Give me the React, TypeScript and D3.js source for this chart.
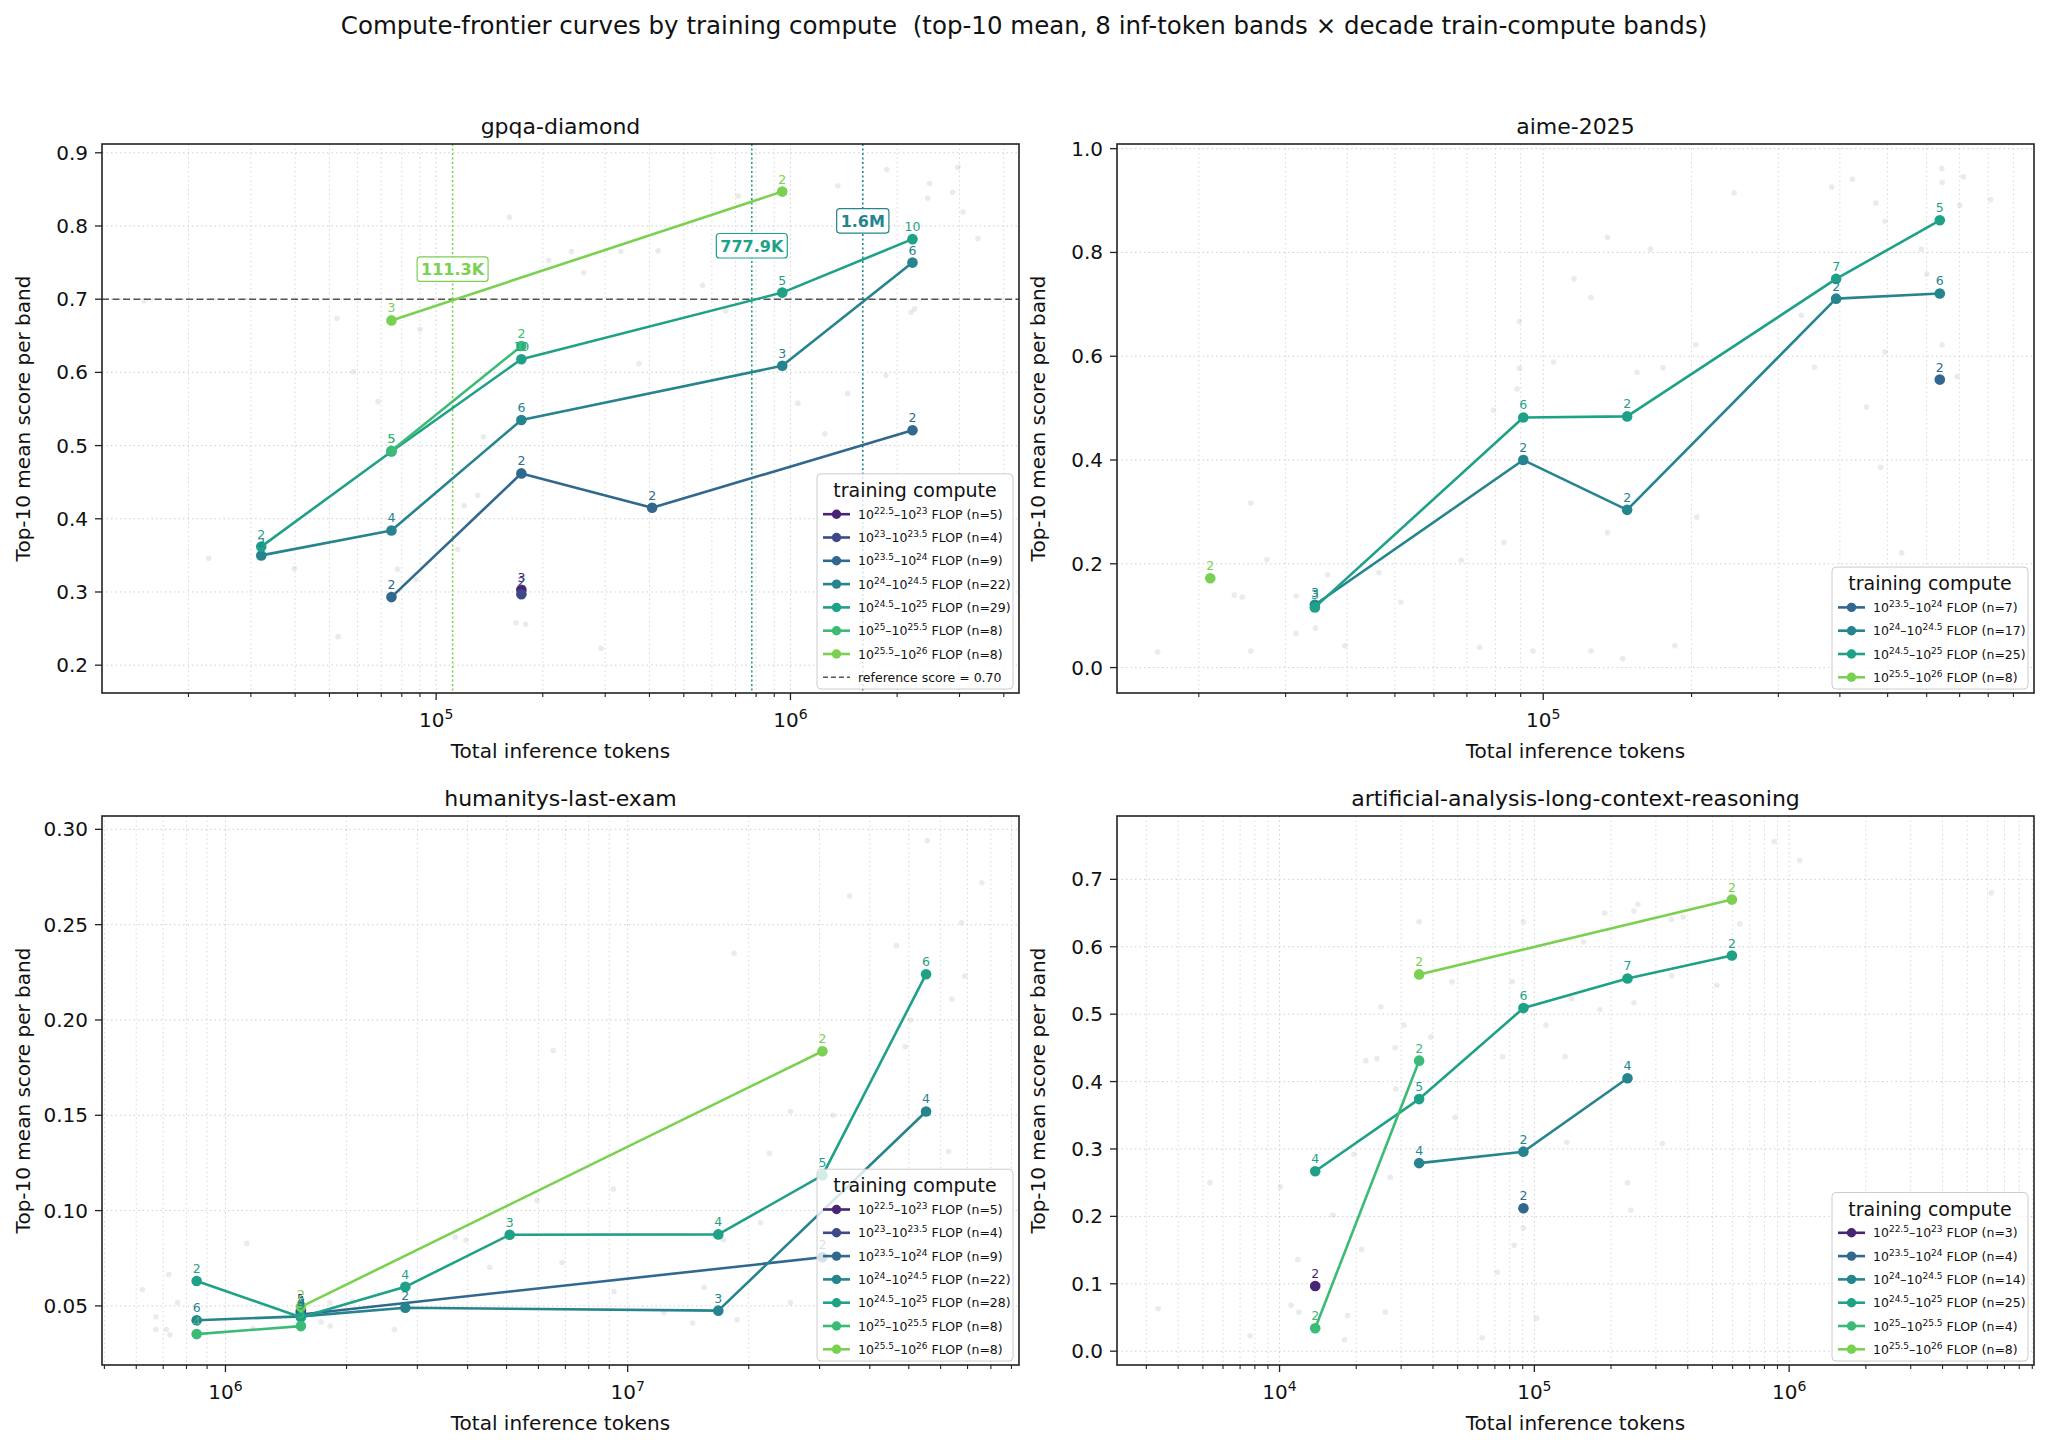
import React from 'react'
import * as d3 from 'd3'

const FONT = 'DejaVu Sans, Verdana, sans-serif'
const W = 2048
const H = 1448
const PW = 917
const PH = 549
const COL_X = [102, 1117]
const ROW_Y = [144, 816]

// training-compute bands, log10 FLOP bounds
const bandLo = ['22.5', '23', '23.5', '24', '24.5', '25', '25.5']
const bandHi = ['23', '23.5', '24', '24.5', '25', '25.5', '26']
const bandColor = bandLo.map((_, i) => d3.interpolateViridis(0.1 + (i * 0.7) / 6))

// ---- gpqa-diamond: [inference tokens, top-10 mean score, models in cell]
const gpqaB0 = [[174e3, 0.303, 3]]
const gpqaB1 = [[174e3, 0.297, 2]]
const gpqaB2 = [[74.8e3, 0.293, 2], [174e3, 0.462, 2], [407e3, 0.415, 2], [2.21e6, 0.521, 2]]
const gpqaB3 = [[32.1e3, 0.35, 2], [74.8e3, 0.384, 4], [174e3, 0.535, 6], [948e3, 0.609, 3], [2.21e6, 0.75, 6]]
const gpqaB4 = [[32.1e3, 0.362, 2], [74.8e3, 0.492, 5], [174e3, 0.618, 10], [948e3, 0.709, 5], [2.21e6, 0.782, 10]]
const gpqaB5 = [[74.8e3, 0.493, 5], [174e3, 0.636, 2]]
const gpqaB6 = [[74.8e3, 0.671, 3], [948e3, 0.847, 2]]
const gpqaN = [5, 4, 9, 22, 29, 8, 8]
const gpqaCross = [111.3e3, 777.9e3, 1.6e6]
const gpqaCrossText = ['111.3K', '777.9K', '1.6M']
const gpqaCrossBand = [6, 4, 3]
const gpqaCrossLabelY = [0.741, 0.773, 0.807]
const gpqaRef = 0.7
const gpqaRaw = [
  [15.0e3, 0.698], [22.8e3, 0.346], [39.8e3, 0.332], [52.5e3, 0.674], [52.9e3, 0.239], [58.4e3, 0.601],
  [68.6e3, 0.56], [77.8e3, 0.331], [87.7e3, 0.317], [90e3, 0.659], [115e3, 0.358], [120e3, 0.418],
  [131e3, 0.432], [136e3, 0.512], [161e3, 0.812], [168e3, 0.258], [179e3, 0.256], [208e3, 0.753],
  [241e3, 0.765], [261e3, 0.736], [292e3, 0.223], [332e3, 0.765], [374e3, 0.612], [423e3, 0.766],
  [565e3, 0.719], [655e3, 0.684], [712e3, 0.841], [1.05e6, 0.558], [1.25e6, 0.516], [1.36e6, 0.855],
  [1.45e6, 0.571], [1.87e6, 0.877], [1.86e6, 0.596], [2.19e6, 0.682], [2.24e6, 0.687], [2.44e6, 0.838],
  [2.47e6, 0.858], [2.87e6, 0.846], [2.97e6, 0.88], [3.07e6, 0.819], [3.38e6, 0.783],
]

// ---- aime-2025
const aimeB2 = [[638e3, 0.555, 2]]
const aimeB3 = [[34.4e3, 0.121, 3], [91.1e3, 0.4, 2], [148e3, 0.304, 2], [393e3, 0.711, 2], [638e3, 0.721, 6]]
const aimeB4 = [[34.4e3, 0.116, 3], [91.1e3, 0.482, 6], [148e3, 0.484, 2], [393e3, 0.749, 7], [638e3, 0.862, 5]]
const aimeB6 = [[21.1e3, 0.172, 2]]
const aimeN = [0, 0, 7, 17, 25, 0, 8]
const aimeRaw = [
  [16.5e3, 0.03], [23.6e3, 0.14], [24.5e3, 0.136], [25.5e3, 0.317], [25.5e3, 0.032], [27.5e3, 0.208],
  [31.5e3, 0.138], [31.5e3, 0.066], [34.5e3, 0.076], [36.5e3, 0.179], [39.6e3, 0.042], [46.4e3, 0.183],
  [51.4e3, 0.126], [68.2e3, 0.207], [74.3e3, 0.039], [79.3e3, 0.496], [83.2e3, 0.241], [88.5e3, 0.537],
  [89.5e3, 0.667], [89.5e3, 0.577], [95.3e3, 0.032], [105e3, 0.589], [115.5e3, 0.749], [125e3, 0.713],
  [125e3, 0.032], [135e3, 0.829], [135e3, 0.26], [145e3, 0.017], [155e3, 0.569], [165e3, 0.806],
  [175e3, 0.578], [185e3, 0.042], [204e3, 0.622], [205e3, 0.29], [244e3, 0.915], [334e3, 0.679],
  [355e3, 0.579], [385e3, 0.926], [424e3, 0.941], [453e3, 0.502], [473e3, 0.895], [484e3, 0.386],
  [494e3, 0.608], [494e3, 0.86], [534e3, 0.221], [585e3, 0.806], [600e3, 0.758], [644e3, 0.962],
  [645e3, 0.935], [645e3, 0.622], [692e3, 0.561], [700e3, 0.891], [712e3, 0.946], [809e3, 0.902],
]

// ---- humanitys-last-exam
const hleB0 = [[1.54e6, 0.0475, 5]]
const hleB1 = [[1.54e6, 0.0465, 4]]
const hleB2 = [[1.54e6, 0.0455, 3], [30.5e6, 0.0755, 2]]
const hleB3 = [[848e3, 0.0425, 6], [1.54e6, 0.0445, 4], [2.8e6, 0.049, 2], [16.8e6, 0.0475, 3], [55.2e6, 0.152, 4]]
const hleB4 = [[848e3, 0.0631, 2], [1.54e6, 0.044, 5], [2.8e6, 0.06, 4], [5.09e6, 0.0873, 3], [16.8e6, 0.0875, 4], [30.5e6, 0.1185, 5], [55.2e6, 0.224, 6]]
const hleB5 = [[848e3, 0.0352, 4], [1.54e6, 0.0394, 3]]
const hleB6 = [[1.54e6, 0.0495, 2], [30.5e6, 0.1836, 2]]
const hleN = [5, 4, 9, 22, 28, 8, 8]
const hleRaw = [
  [622e3, 0.0586], [671e3, 0.0443], [671e3, 0.0376], [713e3, 0.0376], [728e3, 0.0349], [723e3, 0.0665],
  [760e3, 0.0518], [1.13e6, 0.0828], [1.17e6, 0.0382], [1.73e6, 0.0416], [1.82e6, 0.0394], [1.82e6, 0.0518],
  [2.07e6, 0.0525], [2.63e6, 0.0376], [3.73e6, 0.0862], [3.96e6, 0.0846], [4.54e6, 0.0703], [5.95e6, 0.1054],
  [6.53e6, 0.184], [6.87e6, 0.0728], [9.21e6, 0.1113], [9.25e6, 0.0575], [12.3e6, 0.0466], [14.5e6, 0.041],
  [15.5e6, 0.0597], [17.3e6, 0.0846], [18.4e6, 0.235], [18.7e6, 0.0428], [21.4e6, 0.0936], [22.5e6, 0.13],
  [25.4e6, 0.152], [25.4e6, 0.0518], [32.4e6, 0.15], [35.6e6, 0.265], [46.6e6, 0.239], [49e6, 0.186],
  [50.5e6, 0.2], [55.6e6, 0.294], [62.8e6, 0.131], [64e6, 0.211], [67.6e6, 0.251], [68.9e6, 0.223], [76e6, 0.272],
]

// ---- artificial-analysis-long-context-reasoning
const lcrB0 = [[13.8e3, 0.0966, 2]]
const lcrB2 = [[90.6e3, 0.212, 2]]
const lcrB3 = [[35.3e3, 0.279, 4], [90.6e3, 0.296, 2], [232e3, 0.405, 4]]
const lcrB4 = [[13.8e3, 0.267, 4], [35.3e3, 0.374, 5], [90.6e3, 0.509, 6], [232e3, 0.553, 7], [596e3, 0.587, 2]]
const lcrB5 = [[13.8e3, 0.034, 2], [35.3e3, 0.431, 2]]
const lcrB6 = [[35.3e3, 0.559, 2], [596e3, 0.67, 2]]
const lcrN = [3, 0, 4, 14, 25, 4, 8]
const lcrRaw = [
  [3.34e3, 0.063], [5.33e3, 0.25], [7.66e3, 0.023], [10.05e3, 0.244], [11.1e3, 0.068], [11.8e3, 0.136],
  [11.9e3, 0.058], [16.2e3, 0.202], [18e3, 0.017], [18.5e3, 0.053], [19.6e3, 0.292], [21e3, 0.151],
  [21.8e3, 0.431], [24.1e3, 0.434], [25e3, 0.511], [26e3, 0.058], [27.2e3, 0.258], [28.4e3, 0.45],
  [28.6e3, 0.389], [30.8e3, 0.484], [35.3e3, 0.637], [39.2e3, 0.466], [47.5e3, 0.548], [48.8e3, 0.347],
  [62.4e3, 0.02], [71.5e3, 0.117], [75.1e3, 0.437], [81.9e3, 0.548], [83.3e3, 0.157], [90.6e3, 0.637],
  [90.6e3, 0.183], [102e3, 0.049], [111e3, 0.484], [132e3, 0.437], [134e3, 0.31], [140e3, 0.523],
  [156e3, 0.607], [181e3, 0.507], [189e3, 0.65], [232e3, 0.25], [239e3, 0.209], [246e3, 0.517],
  [246e3, 0.653], [255e3, 0.663], [318e3, 0.308], [345e3, 0.64], [346e3, 0.557], [384e3, 0.644],
  [520e3, 0.543], [640e3, 0.634], [873e3, 0.756], [1.1e6, 0.728], [6.21e6, 0.68],
]

const panels = [
  {
    title: 'gpqa-diamond', col: 0, row: 0,
    xDomain: [10 ** 4.057, 10 ** 6.645], yDomain: [0.162, 0.912],
    yTicks: [0.2, 0.3, 0.4, 0.5, 0.6, 0.7, 0.8, 0.9], yFmt: '.1f',
    series: [gpqaB0, gpqaB1, gpqaB2, gpqaB3, gpqaB4, gpqaB5, gpqaB6].map((pts, band) => ({ band, pts })),
    counts: gpqaN, raw: gpqaRaw, ref: gpqaRef,
  },
  {
    title: 'aime-2025', col: 1, row: 0,
    xDomain: [10 ** 4.135, 10 ** 5.996], yDomain: [-0.049, 1.009],
    yTicks: [0, 0.2, 0.4, 0.6, 0.8, 1.0], yFmt: '.1f',
    series: [{ band: 2, pts: aimeB2 }, { band: 3, pts: aimeB3 }, { band: 4, pts: aimeB4 }, { band: 6, pts: aimeB6 }],
    counts: aimeN, raw: aimeRaw, ref: null,
  },
  {
    title: 'humanitys-last-exam', col: 0, row: 1,
    xDomain: [10 ** 5.693, 10 ** 7.973], yDomain: [0.019, 0.307],
    yTicks: [0.05, 0.1, 0.15, 0.2, 0.25, 0.3], yFmt: '.2f',
    series: [hleB0, hleB1, hleB2, hleB3, hleB4, hleB5, hleB6].map((pts, band) => ({ band, pts })),
    counts: hleN, raw: hleRaw, ref: null,
  },
  {
    title: 'artificial-analysis-long-context-reasoning', col: 1, row: 1,
    xDomain: [10 ** 3.362, 10 ** 6.961], yDomain: [-0.0205, 0.794],
    yTicks: [0, 0.1, 0.2, 0.3, 0.4, 0.5, 0.6, 0.7], yFmt: '.1f',
    series: [{ band: 0, pts: lcrB0 }, { band: 2, pts: lcrB2 }, { band: 3, pts: lcrB3 }, { band: 4, pts: lcrB4 }, { band: 5, pts: lcrB5 }, { band: 6, pts: lcrB6 }],
    counts: lcrN, raw: lcrRaw, ref: null,
  },
]

// rough DejaVu Sans Bold advance widths (em) for the crossing labels
const boldW = (s: string) =>
  s.split('').reduce((a, c) => a + (c === '.' ? 0.38 : c === 'K' ? 0.775 : c === 'M' ? 0.995 : 0.695), 0)

function logTicks(domain: number[]) {
  const lo = Math.floor(Math.log10(domain[0]))
  const hi = Math.ceil(Math.log10(domain[1]))
  const major: number[] = []
  const minor: number[] = []
  for (let e = lo; e <= hi; e++) {
    for (let k = 1; k <= 9; k++) {
      const v = k * 10 ** e
      if (v < domain[0] || v > domain[1]) continue
      if (k === 1) major.push(v)
      else minor.push(v)
    }
  }
  return { major, minor }
}

function Legend({ p, right, bottom }: any) {
  const entries = p.series.map((s: any) => s.band)
  const rows = entries.length + (p.ref != null ? 1 : 0)
  const lw = 196
  const lh = 52 + 23.3 * (rows - 1)
  const lx = right - 6 - lw
  const ly = bottom - 4 - lh
  const rowY = (i: number) => ly + 40.3 + 23.3 * i
  return (
    <g fontFamily={FONT}>
      <rect x={lx} y={ly} width={lw} height={lh} rx={4} fill="#fff" fillOpacity={0.8} stroke="#cccccc" strokeWidth={1} />
      <text x={lx + lw / 2} y={ly + 23} textAnchor="middle" fontSize={19} fill="#111">training compute</text>
      {entries.map((b: number, i: number) => (
        <g key={b}>
          <line x1={lx + 6} x2={lx + 33} y1={rowY(i)} y2={rowY(i)} stroke={bandColor[b]} strokeWidth={2.6} />
          <circle cx={lx + 19.5} cy={rowY(i)} r={4.7} fill={bandColor[b]} />
          <text x={lx + 41} y={rowY(i) + 4.5} fontSize={12.5} fill="#111">
            <tspan>10</tspan>
            <tspan dy={-5} fontSize={9}>{bandLo[b]}</tspan>
            <tspan dy={5}>–10</tspan>
            <tspan dy={-5} fontSize={9}>{bandHi[b]}</tspan>
            <tspan dy={5}>{` FLOP (n=${p.counts[b]})`}</tspan>
          </text>
        </g>
      ))}
      {p.ref != null && (
        <g>
          <line x1={lx + 6} x2={lx + 33} y1={rowY(rows - 1)} y2={rowY(rows - 1)} stroke="#555" strokeWidth={1.6} strokeDasharray="5,3" />
          <text x={lx + 41} y={rowY(rows - 1) + 4.5} fontSize={12.5} fill="#111">{`reference score = ${p.ref.toFixed(2)}`}</text>
        </g>
      )}
    </g>
  )
}

function Panel({ p }: any) {
  const left = COL_X[p.col]
  const top = ROW_Y[p.row]
  const right = left + PW
  const bottom = top + PH
  const x = d3.scaleLog().domain(p.xDomain).range([left, right])
  const y = d3.scaleLinear().domain(p.yDomain).range([bottom, top])
  const { major, minor } = logTicks(p.xDomain)
  const fmt = d3.format(p.yFmt)
  const line = d3.line<number[]>().x((d) => x(d[0])).y((d) => y(d[1]))
  const clipId = `clip-${p.col}-${p.row}`

  return (
    <g fontFamily={FONT}>
      <defs>
        <clipPath id={clipId}>
          <rect x={left} y={top} width={PW} height={PH} />
        </clipPath>
      </defs>
      <g clipPath={`url(#${clipId})`}>
        {/* grid */}
        {minor.map((v) => (
          <line key={'gm' + v} x1={x(v)} x2={x(v)} y1={top} y2={bottom} stroke="#d9d9d9" strokeWidth={1} strokeDasharray="1.5,3" />
        ))}
        {major.map((v) => (
          <line key={'gM' + v} x1={x(v)} x2={x(v)} y1={top} y2={bottom} stroke="#cfcfcf" strokeWidth={1} strokeDasharray="1.5,3" />
        ))}
        {p.yTicks.map((v: number) => (
          <line key={'gy' + v} x1={left} x2={right} y1={y(v)} y2={y(v)} stroke="#cfcfcf" strokeWidth={1} strokeDasharray="1.5,3" />
        ))}
        {/* raw model scores */}
        {p.raw.map((d: number[], i: number) => (
          <circle key={'r' + i} cx={x(d[0])} cy={y(d[1])} r={2.8} fill="#bdbdbd" fillOpacity={0.3} />
        ))}
        {/* reference score and crossings */}
        {p.ref != null && (
          <line x1={left} x2={right} y1={y(p.ref)} y2={y(p.ref)} stroke="#555" strokeWidth={1.6} strokeDasharray="7,3.5" />
        )}
        {p.ref != null &&
          gpqaCross.map((v, i) => (
            <line key={'vc' + i} x1={x(v)} x2={x(v)} y1={top} y2={bottom} stroke={bandColor[gpqaCrossBand[i]]} strokeWidth={1.6} strokeDasharray="2,2.5" />
          ))}
        {/* frontier curves */}
        {p.series.map((s: any) => (
          <g key={'s' + s.band}>
            {s.pts.length > 1 && (
              <path d={line(s.pts) || ''} fill="none" stroke={bandColor[s.band]} strokeWidth={2.6} strokeLinejoin="round" />
            )}
            {s.pts.map((d: number[], i: number) => (
              <circle key={i} cx={x(d[0])} cy={y(d[1])} r={5.3} fill={bandColor[s.band]} />
            ))}
          </g>
        ))}
        {p.series.map((s: any) =>
          s.pts.map((d: number[], i: number) => (
            <text key={'c' + s.band + '-' + i} x={x(d[0])} y={y(d[1]) - 8} textAnchor="middle" fontSize={12.5} fill={bandColor[s.band]}>
              {d[2]}
            </text>
          ))
        )}
        {p.ref != null &&
          gpqaCross.map((v, i) => {
            const fs = 16
            const tw = boldW(gpqaCrossText[i]) * fs
            const bw = tw + 8
            const bh = 24.5
            const cx = x(v)
            const cy = y(gpqaCrossLabelY[i])
            const c = bandColor[gpqaCrossBand[i]]
            return (
              <g key={'lab' + i}>
                <rect x={cx - bw / 2} y={cy - bh / 2} width={bw} height={bh} rx={3} fill="#fff" fillOpacity={0.85} stroke={c} strokeWidth={1.2} />
                <text x={cx} y={cy + 5.8} textAnchor="middle" fontSize={fs} fontWeight="bold" fill={c}>
                  {gpqaCrossText[i]}
                </text>
              </g>
            )
          })}
      </g>

      {/* frame */}
      <rect x={left} y={top} width={PW} height={PH} fill="none" stroke="#222" strokeWidth={1.6} />

      {/* x ticks */}
      {minor.map((v) => (
        <line key={'tm' + v} x1={x(v)} x2={x(v)} y1={bottom} y2={bottom + 4} stroke="#222" strokeWidth={1.1} />
      ))}
      {major.map((v) => (
        <g key={'tM' + v}>
          <line x1={x(v)} x2={x(v)} y1={bottom} y2={bottom + 7} stroke="#222" strokeWidth={1.3} />
          <text x={x(v)} y={bottom + 34} textAnchor="middle" fontSize={20} fill="#111">
            <tspan>10</tspan>
            <tspan dy={-8} fontSize={14}>{Math.round(Math.log10(v))}</tspan>
          </text>
        </g>
      ))}
      {/* y ticks */}
      {p.yTicks.map((v: number) => (
        <g key={'ty' + v}>
          <line x1={left - 7} x2={left} y1={y(v)} y2={y(v)} stroke="#222" strokeWidth={1.3} />
          <text x={left - 14} y={y(v) + 7} textAnchor="end" fontSize={20} fill="#111">
            {fmt(v)}
          </text>
        </g>
      ))}

      <text x={left + PW / 2} y={top - 10} textAnchor="middle" fontSize={22} fill="#111">{p.title}</text>
      <text x={left + PW / 2} y={bottom + 65} textAnchor="middle" fontSize={20} fill="#111">Total inference tokens</text>
      <text
        transform={`translate(${left - 72},${top + PH / 2}) rotate(-90)`}
        textAnchor="middle"
        fontSize={20}
        fill="#111"
      >
        Top-10 mean score per band
      </text>

      <Legend p={p} right={right} bottom={bottom} />
    </g>
  )
}

export default function App() {
  return (
    <svg
      width={W}
      height={H}
      viewBox={`0 0 ${W} ${H}`}
      style={{ position: 'absolute', left: 0, top: 0, background: '#fff' }}
    >
      <rect x={0} y={0} width={W} height={H} fill="#fff" />
      <text
        x={W / 2}
        y={34}
        textAnchor="middle"
        fontFamily={FONT}
        fontSize={24.5}
        fill="#111"
        style={{ whiteSpace: 'pre' }}
      >
        {'Compute-frontier curves by training compute  (top-10 mean, 8 inf-token bands × decade train-compute bands)'}
      </text>
      {panels.map((p) => (
        <Panel key={p.title} p={p} />
      ))}
    </svg>
  )
}
